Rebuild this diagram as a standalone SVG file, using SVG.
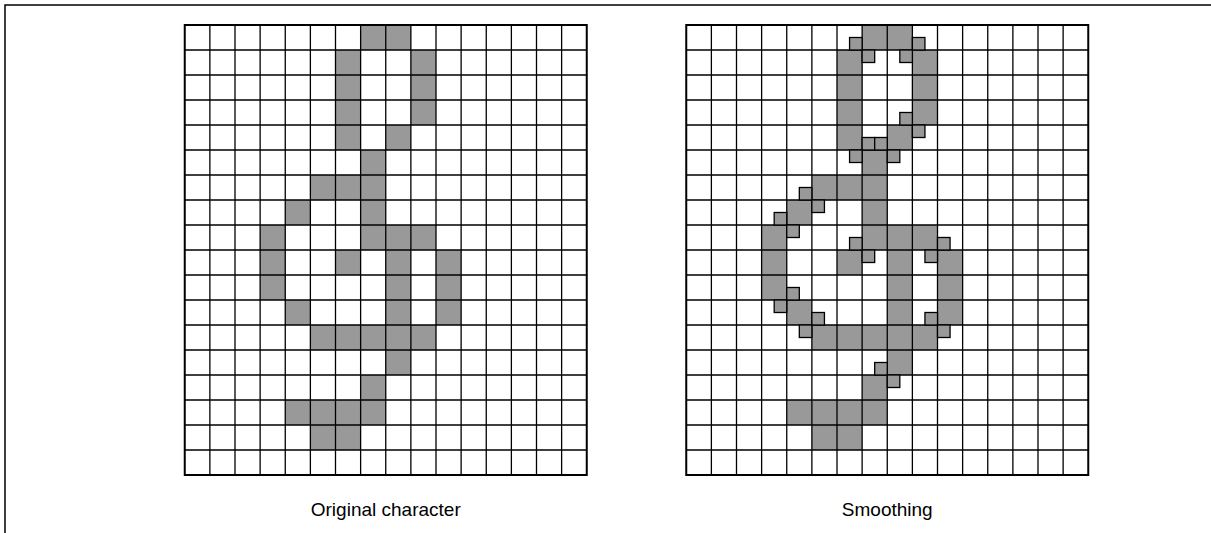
<svg xmlns="http://www.w3.org/2000/svg" xmlns:xlink="http://www.w3.org/1999/xlink" width="1211" height="533" viewBox="0 0 1211 533">
<style>
.f{fill:#999999;stroke:none}
.q{fill:#999999;stroke:#000;stroke-width:1.3}
.gl{fill:none;stroke:#000;stroke-width:1.3}
.ob{fill:none;stroke:#000;stroke-width:2}
.fr{fill:none;stroke:#000;stroke-width:1.5}
.lbl{font-family:"Liberation Sans",Arial,sans-serif;font-size:19px;fill:#000;text-anchor:middle}
</style>
<defs>
<g id="glyph">
<rect class="f" x="175.875" y="0" width="50.25" height="25"/>
<rect class="f" x="150.75" y="25" width="25.125" height="75"/>
<rect class="f" x="226.125" y="25" width="25.125" height="75"/>
<rect class="f" x="150.75" y="100" width="25.125" height="25"/>
<rect class="f" x="201" y="100" width="25.125" height="25"/>
<rect class="f" x="175.875" y="125" width="25.125" height="25"/>
<rect class="f" x="125.625" y="150" width="75.375" height="25"/>
<rect class="f" x="100.5" y="175" width="25.125" height="25"/>
<rect class="f" x="175.875" y="175" width="25.125" height="25"/>
<rect class="f" x="75.375" y="200" width="25.125" height="75"/>
<rect class="f" x="175.875" y="200" width="75.375" height="25"/>
<rect class="f" x="150.75" y="225" width="25.125" height="25"/>
<rect class="f" x="201" y="225" width="25.125" height="125"/>
<rect class="f" x="251.25" y="225" width="25.125" height="75"/>
<rect class="f" x="100.5" y="275" width="25.125" height="25"/>
<rect class="f" x="125.625" y="300" width="125.625" height="25"/>
<rect class="f" x="175.875" y="350" width="25.125" height="25"/>
<rect class="f" x="100.5" y="375" width="100.5" height="25"/>
<rect class="f" x="125.625" y="400" width="50.25" height="25"/>
</g>
<g id="grid">
<path class="gl" d="M25.125,0V450M50.25,0V450M75.375,0V450M100.5,0V450M125.625,0V450M150.75,0V450M175.875,0V450M201,0V450M226.125,0V450M251.25,0V450M276.375,0V450M301.5,0V450M326.625,0V450M351.75,0V450M376.875,0V450M0,25H402M0,50H402M0,75H402M0,100H402M0,125H402M0,150H402M0,175H402M0,200H402M0,225H402M0,250H402M0,275H402M0,300H402M0,325H402M0,350H402M0,375H402M0,400H402M0,425H402"/>
<rect class="ob" x="0" y="0" width="402" height="450"/>
</g>
</defs>
<path class="fr" d="M5,533V5H1211"/>
<g id="original" transform="translate(184.75,25)">
<use xlink:href="#glyph"/>
<use xlink:href="#grid"/>
<text class="lbl" x="201" y="491">Original character</text>
</g>
<g id="smoothing" transform="translate(686.25,25)">
<use xlink:href="#glyph"/>
<use xlink:href="#grid"/>
<g id="smooth-quarters">
<rect class="q" x="163.3125" y="12.5" width="12.5625" height="12.5"/>
<rect class="q" x="226.125" y="12.5" width="12.5625" height="12.5"/>
<rect class="q" x="175.875" y="25" width="12.5625" height="12.5"/>
<rect class="q" x="213.5625" y="25" width="12.5625" height="12.5"/>
<rect class="q" x="213.5625" y="87.5" width="12.5625" height="12.5"/>
<rect class="q" x="175.875" y="112.5" width="12.5625" height="12.5"/>
<rect class="q" x="188.4375" y="112.5" width="12.5625" height="12.5"/>
<rect class="q" x="226.125" y="100" width="12.5625" height="12.5"/>
<rect class="q" x="163.3125" y="125" width="12.5625" height="12.5"/>
<rect class="q" x="201" y="125" width="12.5625" height="12.5"/>
<rect class="q" x="113.0625" y="162.5" width="12.5625" height="12.5"/>
<rect class="q" x="87.9375" y="187.5" width="12.5625" height="12.5"/>
<rect class="q" x="125.625" y="175" width="12.5625" height="12.5"/>
<rect class="q" x="100.5" y="200" width="12.5625" height="12.5"/>
<rect class="q" x="163.3125" y="212.5" width="12.5625" height="12.5"/>
<rect class="q" x="251.25" y="212.5" width="12.5625" height="12.5"/>
<rect class="q" x="175.875" y="225" width="12.5625" height="12.5"/>
<rect class="q" x="238.6875" y="225" width="12.5625" height="12.5"/>
<rect class="q" x="100.5" y="262.5" width="12.5625" height="12.5"/>
<rect class="q" x="87.9375" y="275" width="12.5625" height="12.5"/>
<rect class="q" x="125.625" y="287.5" width="12.5625" height="12.5"/>
<rect class="q" x="238.6875" y="287.5" width="12.5625" height="12.5"/>
<rect class="q" x="113.0625" y="300" width="12.5625" height="12.5"/>
<rect class="q" x="251.25" y="300" width="12.5625" height="12.5"/>
<rect class="q" x="188.4375" y="337.5" width="12.5625" height="12.5"/>
<rect class="q" x="201" y="350" width="12.5625" height="12.5"/>
</g>
<text class="lbl" x="201" y="491">Smoothing</text>
</g>
</svg>
